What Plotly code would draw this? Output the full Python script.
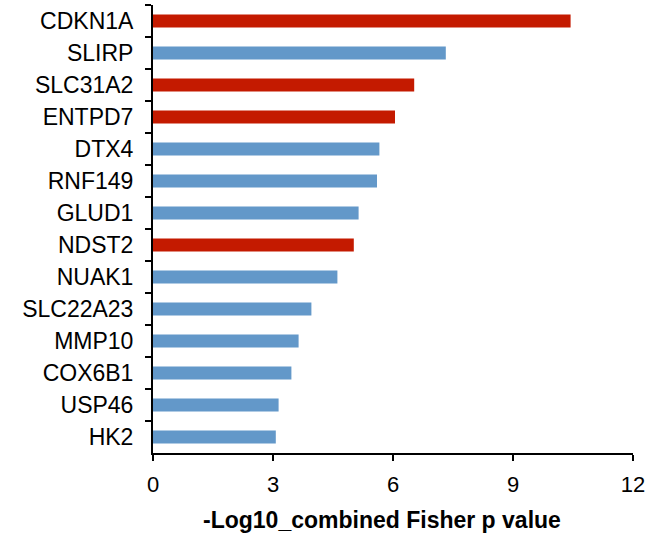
import plotly.graph_objects as go

genes = ["CDKN1A", "SLIRP", "SLC31A2", "ENTPD7", "DTX4", "RNF149", "GLUD1",
         "NDST2", "NUAK1", "SLC22A23", "MMP10", "COX6B1", "USP46", "HK2"]
values = [10.44, 7.32, 6.53, 6.05, 5.66, 5.60, 5.14, 5.02, 4.61, 3.96, 3.64, 3.46, 3.14, 3.07]
groups = ["red", "blue", "red", "red", "blue", "blue", "blue",
          "red", "blue", "blue", "blue", "blue", "blue", "blue"]
x_ticks = [0, 3, 6, 9, 12]
x_title = "-Log10_combined Fisher p value"

palette = {"red": "#C41A00", "blue": "#6398C9"}
colors = [palette[g] for g in groups]

fig = go.Figure(go.Bar(
    x=values, y=genes, orientation="h",
    marker=dict(color=colors, line=dict(width=0)),
    width=0.41,
))

font = "Liberation Sans, Arial, sans-serif"
fig.update_layout(
    width=654, height=539,
    margin=dict(l=153, r=21, t=5, b=86),
    paper_bgcolor="white", plot_bgcolor="white",
    showlegend=False,
    font=dict(family=font, color="black", size=23),
    xaxis=dict(
        range=[0, 12], tickvals=x_ticks, ticks="outside", ticklen=6, tickwidth=2,
        tickcolor="black", showline=True, linecolor="black", linewidth=2,
        showgrid=False, zeroline=False, tickfont=dict(size=22, family=font),
        ticklabelstandoff=5,
    ),
    yaxis=dict(
        categoryorder="array", categoryarray=genes, autorange="reversed",
        ticks="outside", tickson="boundaries", ticklen=6, tickwidth=2,
        tickcolor="black", showline=True, linecolor="black", linewidth=2,
        showgrid=False, zeroline=False, tickfont=dict(size=23, family=font),
        ticklabelstandoff=13,
    ),
    annotations=[dict(
        text="<b>" + x_title + "</b>", xref="paper", yref="paper",
        x=(381.5 - 153) / 480, y=-(520 - 453) / 448, xanchor="center", yanchor="middle",
        showarrow=False, font=dict(size=23, family=font, color="black"),
    )],
)

fig.write_html("out.html", config={"displayModeBar": False},
               post_script="document.body.style.margin='0';")
